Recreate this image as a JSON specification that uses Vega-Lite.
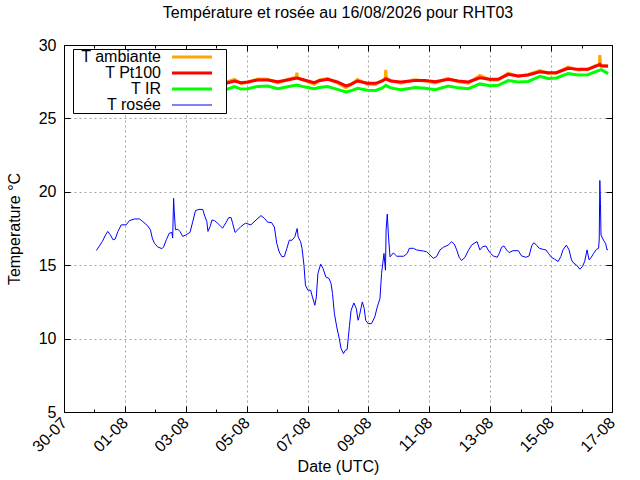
{
  "$schema": "https://vega.github.io/schema/vega-lite/v6.json",
  "width": 548,
  "height": 367,
  "autosize": {"type": "none"},
  "padding": {"left": 64, "top": 45, "right": 28, "bottom": 68},
  "background": "white",
  "title": {"text": "Température et rosée au 16/08/2026 pour RHT03", "fontSize": 16, "fontWeight": "normal", "color": "black", "offset": 16},
  "data": {"values": [
    {"t":"2026-07-31T01:10Z","s":"T ambiante","v":27.1},
    {"t":"2026-07-31T12:00Z","s":"T ambiante","v":27.4},
    {"t":"2026-08-01T00:00Z","s":"T ambiante","v":27.2},
    {"t":"2026-08-01T12:00Z","s":"T ambiante","v":27.5},
    {"t":"2026-08-02T00:00Z","s":"T ambiante","v":27.3},
    {"t":"2026-08-02T12:00Z","s":"T ambiante","v":27.55},
    {"t":"2026-08-03T00:00Z","s":"T ambiante","v":27.35},
    {"t":"2026-08-03T12:00Z","s":"T ambiante","v":27.6},
    {"t":"2026-08-04T00:00Z","s":"T ambiante","v":27.3},
    {"t":"2026-08-04T03:50Z","s":"T ambiante","v":27.12},
    {"t":"2026-08-04T09:05Z","s":"T ambiante","v":27.5},
    {"t":"2026-08-04T14:25Z","s":"T ambiante","v":27.66},
    {"t":"2026-08-04T19:25Z","s":"T ambiante","v":27.38},
    {"t":"2026-08-05T00:45Z","s":"T ambiante","v":27.45},
    {"t":"2026-08-05T08:40Z","s":"T ambiante","v":27.68},
    {"t":"2026-08-05T16:35Z","s":"T ambiante","v":27.66},
    {"t":"2026-08-06T00:30Z","s":"T ambiante","v":27.42},
    {"t":"2026-08-06T08:10Z","s":"T ambiante","v":27.65},
    {"t":"2026-08-06T15:05Z","s":"T ambiante","v":27.8},
    {"t":"2026-08-06T15:35Z","s":"T ambiante","v":28.11},
    {"t":"2026-08-06T16:05Z","s":"T ambiante","v":27.78},
    {"t":"2026-08-06T21:20Z","s":"T ambiante","v":27.6},
    {"t":"2026-08-07T05:15Z","s":"T ambiante","v":27.32},
    {"t":"2026-08-07T09:05Z","s":"T ambiante","v":27.6},
    {"t":"2026-08-07T15:50Z","s":"T ambiante","v":27.72},
    {"t":"2026-08-07T23:30Z","s":"T ambiante","v":27.42},
    {"t":"2026-08-08T06:15Z","s":"T ambiante","v":27.1},
    {"t":"2026-08-08T10:05Z","s":"T ambiante","v":27.3},
    {"t":"2026-08-08T15:20Z","s":"T ambiante","v":27.65},
    {"t":"2026-08-08T23:15Z","s":"T ambiante","v":27.32},
    {"t":"2026-08-09T05:45Z","s":"T ambiante","v":27.33},
    {"t":"2026-08-09T11:00Z","s":"T ambiante","v":27.6},
    {"t":"2026-08-09T13:10Z","s":"T ambiante","v":27.68},
    {"t":"2026-08-09T13:40Z","s":"T ambiante","v":28.3},
    {"t":"2026-08-09T14:10Z","s":"T ambiante","v":27.72},
    {"t":"2026-08-09T17:30Z","s":"T ambiante","v":27.58},
    {"t":"2026-08-10T01:25Z","s":"T ambiante","v":27.4},
    {"t":"2026-08-10T09:20Z","s":"T ambiante","v":27.58},
    {"t":"2026-08-10T12:45Z","s":"T ambiante","v":27.63},
    {"t":"2026-08-10T20:40Z","s":"T ambiante","v":27.55},
    {"t":"2026-08-11T04:35Z","s":"T ambiante","v":27.42},
    {"t":"2026-08-11T14:50Z","s":"T ambiante","v":27.72},
    {"t":"2026-08-11T22:50Z","s":"T ambiante","v":27.5},
    {"t":"2026-08-12T06:45Z","s":"T ambiante","v":27.4},
    {"t":"2026-08-12T15:50Z","s":"T ambiante","v":27.92},
    {"t":"2026-08-12T23:45Z","s":"T ambiante","v":27.62},
    {"t":"2026-08-13T06:15Z","s":"T ambiante","v":27.62},
    {"t":"2026-08-13T14:10Z","s":"T ambiante","v":28.08},
    {"t":"2026-08-13T22:05Z","s":"T ambiante","v":27.85},
    {"t":"2026-08-14T06:00Z","s":"T ambiante","v":28.0},
    {"t":"2026-08-14T15:05Z","s":"T ambiante","v":28.25},
    {"t":"2026-08-14T21:35Z","s":"T ambiante","v":28.08},
    {"t":"2026-08-15T04:05Z","s":"T ambiante","v":28.1},
    {"t":"2026-08-15T13:25Z","s":"T ambiante","v":28.5},
    {"t":"2026-08-15T21:20Z","s":"T ambiante","v":28.3},
    {"t":"2026-08-16T05:00Z","s":"T ambiante","v":28.35},
    {"t":"2026-08-16T11:45Z","s":"T ambiante","v":28.62},
    {"t":"2026-08-16T13:55Z","s":"T ambiante","v":28.6},
    {"t":"2026-08-16T14:25Z","s":"T ambiante","v":29.32},
    {"t":"2026-08-16T14:55Z","s":"T ambiante","v":28.7},
    {"t":"2026-08-16T15:35Z","s":"T ambiante","v":28.6},
    {"t":"2026-08-16T20:55Z","s":"T ambiante","v":28.55},

    {"t":"2026-07-31T01:10Z","s":"T Pt100","v":27.15},
    {"t":"2026-07-31T12:00Z","s":"T Pt100","v":27.35},
    {"t":"2026-08-01T00:00Z","s":"T Pt100","v":27.25},
    {"t":"2026-08-01T12:00Z","s":"T Pt100","v":27.45},
    {"t":"2026-08-02T00:00Z","s":"T Pt100","v":27.3},
    {"t":"2026-08-02T12:00Z","s":"T Pt100","v":27.5},
    {"t":"2026-08-03T00:00Z","s":"T Pt100","v":27.35},
    {"t":"2026-08-03T12:00Z","s":"T Pt100","v":27.55},
    {"t":"2026-08-04T00:00Z","s":"T Pt100","v":27.3},
    {"t":"2026-08-04T03:50Z","s":"T Pt100","v":27.21},
    {"t":"2026-08-04T09:05Z","s":"T Pt100","v":27.43},
    {"t":"2026-08-04T14:25Z","s":"T Pt100","v":27.55},
    {"t":"2026-08-04T19:25Z","s":"T Pt100","v":27.43},
    {"t":"2026-08-05T00:45Z","s":"T Pt100","v":27.48},
    {"t":"2026-08-05T08:40Z","s":"T Pt100","v":27.62},
    {"t":"2026-08-05T16:35Z","s":"T Pt100","v":27.62},
    {"t":"2026-08-06T00:30Z","s":"T Pt100","v":27.5},
    {"t":"2026-08-06T08:10Z","s":"T Pt100","v":27.62},
    {"t":"2026-08-06T15:35Z","s":"T Pt100","v":27.75},
    {"t":"2026-08-06T21:20Z","s":"T Pt100","v":27.62},
    {"t":"2026-08-07T05:15Z","s":"T Pt100","v":27.43},
    {"t":"2026-08-07T09:05Z","s":"T Pt100","v":27.57},
    {"t":"2026-08-07T15:50Z","s":"T Pt100","v":27.66},
    {"t":"2026-08-07T23:30Z","s":"T Pt100","v":27.48},
    {"t":"2026-08-08T06:15Z","s":"T Pt100","v":27.21},
    {"t":"2026-08-08T10:05Z","s":"T Pt100","v":27.32},
    {"t":"2026-08-08T15:20Z","s":"T Pt100","v":27.55},
    {"t":"2026-08-08T23:15Z","s":"T Pt100","v":27.39},
    {"t":"2026-08-09T05:45Z","s":"T Pt100","v":27.39},
    {"t":"2026-08-09T11:00Z","s":"T Pt100","v":27.55},
    {"t":"2026-08-09T13:40Z","s":"T Pt100","v":27.7},
    {"t":"2026-08-09T17:30Z","s":"T Pt100","v":27.55},
    {"t":"2026-08-10T01:25Z","s":"T Pt100","v":27.48},
    {"t":"2026-08-10T09:20Z","s":"T Pt100","v":27.55},
    {"t":"2026-08-10T12:45Z","s":"T Pt100","v":27.59},
    {"t":"2026-08-10T20:40Z","s":"T Pt100","v":27.59},
    {"t":"2026-08-11T04:35Z","s":"T Pt100","v":27.5},
    {"t":"2026-08-11T14:50Z","s":"T Pt100","v":27.66},
    {"t":"2026-08-11T22:50Z","s":"T Pt100","v":27.55},
    {"t":"2026-08-12T06:45Z","s":"T Pt100","v":27.48},
    {"t":"2026-08-12T15:50Z","s":"T Pt100","v":27.77},
    {"t":"2026-08-12T23:45Z","s":"T Pt100","v":27.66},
    {"t":"2026-08-13T06:15Z","s":"T Pt100","v":27.66},
    {"t":"2026-08-13T14:10Z","s":"T Pt100","v":28.0},
    {"t":"2026-08-13T22:05Z","s":"T Pt100","v":27.89},
    {"t":"2026-08-14T06:00Z","s":"T Pt100","v":27.96},
    {"t":"2026-08-14T15:05Z","s":"T Pt100","v":28.18},
    {"t":"2026-08-14T21:35Z","s":"T Pt100","v":28.11},
    {"t":"2026-08-15T04:05Z","s":"T Pt100","v":28.11},
    {"t":"2026-08-15T13:25Z","s":"T Pt100","v":28.41},
    {"t":"2026-08-15T21:20Z","s":"T Pt100","v":28.34},
    {"t":"2026-08-16T05:00Z","s":"T Pt100","v":28.34},
    {"t":"2026-08-16T11:45Z","s":"T Pt100","v":28.57},
    {"t":"2026-08-16T14:25Z","s":"T Pt100","v":28.68},
    {"t":"2026-08-16T15:35Z","s":"T Pt100","v":28.57},
    {"t":"2026-08-16T20:55Z","s":"T Pt100","v":28.57},

    {"t":"2026-07-31T01:10Z","s":"T IR","v":26.75},
    {"t":"2026-07-31T12:00Z","s":"T IR","v":26.95},
    {"t":"2026-08-01T00:00Z","s":"T IR","v":26.8},
    {"t":"2026-08-01T12:00Z","s":"T IR","v":27.0},
    {"t":"2026-08-02T00:00Z","s":"T IR","v":26.85},
    {"t":"2026-08-02T12:00Z","s":"T IR","v":27.05},
    {"t":"2026-08-03T00:00Z","s":"T IR","v":26.9},
    {"t":"2026-08-03T12:00Z","s":"T IR","v":27.1},
    {"t":"2026-08-04T00:00Z","s":"T IR","v":26.9},
    {"t":"2026-08-04T03:50Z","s":"T IR","v":26.87},
    {"t":"2026-08-04T09:05Z","s":"T IR","v":27.0},
    {"t":"2026-08-04T14:25Z","s":"T IR","v":27.16},
    {"t":"2026-08-04T19:25Z","s":"T IR","v":27.0},
    {"t":"2026-08-05T00:45Z","s":"T IR","v":27.02},
    {"t":"2026-08-05T08:40Z","s":"T IR","v":27.18},
    {"t":"2026-08-05T16:35Z","s":"T IR","v":27.2},
    {"t":"2026-08-06T00:30Z","s":"T IR","v":27.02},
    {"t":"2026-08-06T08:10Z","s":"T IR","v":27.15},
    {"t":"2026-08-06T15:35Z","s":"T IR","v":27.27},
    {"t":"2026-08-06T21:20Z","s":"T IR","v":27.15},
    {"t":"2026-08-07T05:15Z","s":"T IR","v":27.02},
    {"t":"2026-08-07T09:05Z","s":"T IR","v":27.1},
    {"t":"2026-08-07T15:50Z","s":"T IR","v":27.17},
    {"t":"2026-08-07T23:30Z","s":"T IR","v":26.98},
    {"t":"2026-08-08T06:15Z","s":"T IR","v":26.8},
    {"t":"2026-08-08T10:05Z","s":"T IR","v":26.88},
    {"t":"2026-08-08T15:20Z","s":"T IR","v":27.05},
    {"t":"2026-08-08T23:15Z","s":"T IR","v":26.92},
    {"t":"2026-08-09T05:45Z","s":"T IR","v":26.9},
    {"t":"2026-08-09T11:00Z","s":"T IR","v":27.08},
    {"t":"2026-08-09T13:40Z","s":"T IR","v":27.25},
    {"t":"2026-08-09T17:30Z","s":"T IR","v":27.08},
    {"t":"2026-08-10T01:25Z","s":"T IR","v":26.95},
    {"t":"2026-08-10T09:20Z","s":"T IR","v":27.05},
    {"t":"2026-08-10T12:45Z","s":"T IR","v":27.1},
    {"t":"2026-08-10T20:40Z","s":"T IR","v":27.05},
    {"t":"2026-08-11T04:35Z","s":"T IR","v":26.95},
    {"t":"2026-08-11T14:50Z","s":"T IR","v":27.2},
    {"t":"2026-08-11T22:50Z","s":"T IR","v":27.08},
    {"t":"2026-08-12T06:45Z","s":"T IR","v":27.02},
    {"t":"2026-08-12T15:50Z","s":"T IR","v":27.35},
    {"t":"2026-08-12T23:45Z","s":"T IR","v":27.22},
    {"t":"2026-08-13T06:15Z","s":"T IR","v":27.25},
    {"t":"2026-08-13T14:10Z","s":"T IR","v":27.58},
    {"t":"2026-08-13T22:05Z","s":"T IR","v":27.48},
    {"t":"2026-08-14T06:00Z","s":"T IR","v":27.52},
    {"t":"2026-08-14T15:05Z","s":"T IR","v":27.87},
    {"t":"2026-08-14T21:35Z","s":"T IR","v":27.72},
    {"t":"2026-08-15T04:05Z","s":"T IR","v":27.75},
    {"t":"2026-08-15T13:25Z","s":"T IR","v":28.05},
    {"t":"2026-08-15T21:20Z","s":"T IR","v":27.95},
    {"t":"2026-08-16T05:00Z","s":"T IR","v":27.98},
    {"t":"2026-08-16T11:45Z","s":"T IR","v":28.2},
    {"t":"2026-08-16T15:35Z","s":"T IR","v":28.32},
    {"t":"2026-08-16T20:55Z","s":"T IR","v":28.05},

    {"t":"2026-07-31T01:30Z","s":"T rosée","v":16.0},
    {"t":"2026-07-31T03:40Z","s":"T rosée","v":16.28},
    {"t":"2026-07-31T06:15Z","s":"T rosée","v":16.62},
    {"t":"2026-07-31T08:50Z","s":"T rosée","v":17.07},
    {"t":"2026-07-31T10:30Z","s":"T rosée","v":17.3},
    {"t":"2026-07-31T12:30Z","s":"T rosée","v":17.07},
    {"t":"2026-07-31T14:40Z","s":"T rosée","v":16.73},
    {"t":"2026-07-31T16:20Z","s":"T rosée","v":16.78},
    {"t":"2026-07-31T18:30Z","s":"T rosée","v":17.3},
    {"t":"2026-07-31T21:10Z","s":"T rosée","v":17.75},
    {"t":"2026-08-01T01:00Z","s":"T rosée","v":17.75},
    {"t":"2026-08-01T03:35Z","s":"T rosée","v":18.04},
    {"t":"2026-08-01T07:40Z","s":"T rosée","v":18.15},
    {"t":"2026-08-01T11:30Z","s":"T rosée","v":18.15},
    {"t":"2026-08-01T14:10Z","s":"T rosée","v":17.97},
    {"t":"2026-08-01T18:00Z","s":"T rosée","v":17.68},
    {"t":"2026-08-01T20:10Z","s":"T rosée","v":17.4},
    {"t":"2026-08-01T21:35Z","s":"T rosée","v":16.85},
    {"t":"2026-08-01T23:15Z","s":"T rosée","v":16.5},
    {"t":"2026-08-02T01:55Z","s":"T rosée","v":16.24},
    {"t":"2026-08-02T05:15Z","s":"T rosée","v":16.13},
    {"t":"2026-08-02T06:30Z","s":"T rosée","v":16.24},
    {"t":"2026-08-02T08:40Z","s":"T rosée","v":16.73},
    {"t":"2026-08-02T11:00Z","s":"T rosée","v":17.18},
    {"t":"2026-08-02T13:00Z","s":"T rosée","v":17.23},
    {"t":"2026-08-02T13:40Z","s":"T rosée","v":16.85},
    {"t":"2026-08-02T14:25Z","s":"T rosée","v":19.55},
    {"t":"2026-08-02T14:50Z","s":"T rosée","v":18.76},
    {"t":"2026-08-02T15:50Z","s":"T rosée","v":17.41},
    {"t":"2026-08-02T17:45Z","s":"T rosée","v":17.45},
    {"t":"2026-08-02T19:25Z","s":"T rosée","v":17.3},
    {"t":"2026-08-02T21:35Z","s":"T rosée","v":16.96},
    {"t":"2026-08-03T00:15Z","s":"T rosée","v":17.07},
    {"t":"2026-08-03T03:20Z","s":"T rosée","v":17.23},
    {"t":"2026-08-03T05:30Z","s":"T rosée","v":17.97},
    {"t":"2026-08-03T07:40Z","s":"T rosée","v":18.72},
    {"t":"2026-08-03T10:20Z","s":"T rosée","v":18.8},
    {"t":"2026-08-03T13:25Z","s":"T rosée","v":18.8},
    {"t":"2026-08-03T14:40Z","s":"T rosée","v":18.42},
    {"t":"2026-08-03T16:35Z","s":"T rosée","v":17.97},
    {"t":"2026-08-03T17:30Z","s":"T rosée","v":17.3},
    {"t":"2026-08-03T19:10Z","s":"T rosée","v":17.63},
    {"t":"2026-08-03T20:40Z","s":"T rosée","v":18.08},
    {"t":"2026-08-03T22:35Z","s":"T rosée","v":18.04},
    {"t":"2026-08-04T01:10Z","s":"T rosée","v":17.86},
    {"t":"2026-08-04T05:00Z","s":"T rosée","v":17.52},
    {"t":"2026-08-04T07:40Z","s":"T rosée","v":17.9},
    {"t":"2026-08-04T09:50Z","s":"T rosée","v":18.24},
    {"t":"2026-08-04T11:45Z","s":"T rosée","v":18.24},
    {"t":"2026-08-04T12:55Z","s":"T rosée","v":17.86},
    {"t":"2026-08-04T14:50Z","s":"T rosée","v":17.23},
    {"t":"2026-08-04T17:00Z","s":"T rosée","v":17.41},
    {"t":"2026-08-04T19:25Z","s":"T rosée","v":17.63},
    {"t":"2026-08-04T23:00Z","s":"T rosée","v":17.86},
    {"t":"2026-08-05T03:20Z","s":"T rosée","v":17.75},
    {"t":"2026-08-05T07:25Z","s":"T rosée","v":18.08},
    {"t":"2026-08-05T11:15Z","s":"T rosée","v":18.38},
    {"t":"2026-08-05T13:55Z","s":"T rosée","v":18.2},
    {"t":"2026-08-05T16:35Z","s":"T rosée","v":17.93},
    {"t":"2026-08-05T19:40Z","s":"T rosée","v":17.9},
    {"t":"2026-08-05T21:50Z","s":"T rosée","v":17.6},
    {"t":"2026-08-05T23:45Z","s":"T rosée","v":16.48},
    {"t":"2026-08-06T01:40Z","s":"T rosée","v":15.9},
    {"t":"2026-08-06T03:50Z","s":"T rosée","v":15.57},
    {"t":"2026-08-06T05:45Z","s":"T rosée","v":15.6},
    {"t":"2026-08-06T07:40Z","s":"T rosée","v":16.14},
    {"t":"2026-08-06T09:35Z","s":"T rosée","v":16.7},
    {"t":"2026-08-06T11:45Z","s":"T rosée","v":16.7},
    {"t":"2026-08-06T13:55Z","s":"T rosée","v":16.93},
    {"t":"2026-08-06T15:50Z","s":"T rosée","v":17.5},
    {"t":"2026-08-06T16:35Z","s":"T rosée","v":16.93},
    {"t":"2026-08-06T18:30Z","s":"T rosée","v":16.6},
    {"t":"2026-08-06T19:40Z","s":"T rosée","v":16.14},
    {"t":"2026-08-06T21:10Z","s":"T rosée","v":15.0},
    {"t":"2026-08-06T22:20Z","s":"T rosée","v":13.64},
    {"t":"2026-08-07T00:15Z","s":"T rosée","v":13.3},
    {"t":"2026-08-07T02:25Z","s":"T rosée","v":13.3},
    {"t":"2026-08-07T03:50Z","s":"T rosée","v":12.84},
    {"t":"2026-08-07T05:45Z","s":"T rosée","v":12.27},
    {"t":"2026-08-07T06:55Z","s":"T rosée","v":12.84},
    {"t":"2026-08-07T08:10Z","s":"T rosée","v":14.43},
    {"t":"2026-08-07T10:20Z","s":"T rosée","v":15.07},
    {"t":"2026-08-07T12:15Z","s":"T rosée","v":14.77},
    {"t":"2026-08-07T14:25Z","s":"T rosée","v":14.2},
    {"t":"2026-08-07T17:00Z","s":"T rosée","v":14.09},
    {"t":"2026-08-07T18:30Z","s":"T rosée","v":13.75},
    {"t":"2026-08-07T19:40Z","s":"T rosée","v":13.07},
    {"t":"2026-08-07T21:10Z","s":"T rosée","v":11.7},
    {"t":"2026-08-07T23:00Z","s":"T rosée","v":10.8},
    {"t":"2026-08-08T01:00Z","s":"T rosée","v":10.0},
    {"t":"2026-08-08T02:25Z","s":"T rosée","v":9.32},
    {"t":"2026-08-08T04:20Z","s":"T rosée","v":8.98},
    {"t":"2026-08-08T05:45Z","s":"T rosée","v":9.2},
    {"t":"2026-08-08T07:10Z","s":"T rosée","v":9.25},
    {"t":"2026-08-08T08:10Z","s":"T rosée","v":10.1},
    {"t":"2026-08-08T09:05Z","s":"T rosée","v":10.9},
    {"t":"2026-08-08T10:20Z","s":"T rosée","v":11.93},
    {"t":"2026-08-08T12:30Z","s":"T rosée","v":12.43},
    {"t":"2026-08-08T14:25Z","s":"T rosée","v":12.05},
    {"t":"2026-08-08T15:50Z","s":"T rosée","v":11.25},
    {"t":"2026-08-08T17:00Z","s":"T rosée","v":11.6},
    {"t":"2026-08-08T19:10Z","s":"T rosée","v":12.5},
    {"t":"2026-08-08T20:40Z","s":"T rosée","v":12.05},
    {"t":"2026-08-08T21:50Z","s":"T rosée","v":11.25},
    {"t":"2026-08-08T23:45Z","s":"T rosée","v":11.02},
    {"t":"2026-08-09T02:25Z","s":"T rosée","v":11.02},
    {"t":"2026-08-09T05:00Z","s":"T rosée","v":11.48},
    {"t":"2026-08-09T07:00Z","s":"T rosée","v":12.16},
    {"t":"2026-08-09T09:05Z","s":"T rosée","v":12.73},
    {"t":"2026-08-09T10:20Z","s":"T rosée","v":14.43},
    {"t":"2026-08-09T12:15Z","s":"T rosée","v":15.8},
    {"t":"2026-08-09T13:25Z","s":"T rosée","v":14.66},
    {"t":"2026-08-09T13:55Z","s":"T rosée","v":17.39},
    {"t":"2026-08-09T14:50Z","s":"T rosée","v":18.48},
    {"t":"2026-08-09T15:50Z","s":"T rosée","v":16.93},
    {"t":"2026-08-09T17:00Z","s":"T rosée","v":15.57},
    {"t":"2026-08-09T19:40Z","s":"T rosée","v":15.84},
    {"t":"2026-08-09T22:20Z","s":"T rosée","v":15.61},
    {"t":"2026-08-10T03:50Z","s":"T rosée","v":15.61},
    {"t":"2026-08-10T06:40Z","s":"T rosée","v":15.81},
    {"t":"2026-08-10T08:10Z","s":"T rosée","v":16.15},
    {"t":"2026-08-10T11:30Z","s":"T rosée","v":16.15},
    {"t":"2026-08-10T13:55Z","s":"T rosée","v":16.04},
    {"t":"2026-08-10T16:35Z","s":"T rosée","v":16.0},
    {"t":"2026-08-10T19:10Z","s":"T rosée","v":15.97},
    {"t":"2026-08-10T21:50Z","s":"T rosée","v":15.92},
    {"t":"2026-08-11T00:30Z","s":"T rosée","v":15.7},
    {"t":"2026-08-11T03:10Z","s":"T rosée","v":15.47},
    {"t":"2026-08-11T05:45Z","s":"T rosée","v":15.59},
    {"t":"2026-08-11T08:25Z","s":"T rosée","v":16.04},
    {"t":"2026-08-11T11:00Z","s":"T rosée","v":16.22},
    {"t":"2026-08-11T14:50Z","s":"T rosée","v":16.37},
    {"t":"2026-08-11T17:30Z","s":"T rosée","v":16.6},
    {"t":"2026-08-11T19:40Z","s":"T rosée","v":16.44},
    {"t":"2026-08-11T21:35Z","s":"T rosée","v":16.04},
    {"t":"2026-08-11T23:30Z","s":"T rosée","v":15.54},
    {"t":"2026-08-12T01:25Z","s":"T rosée","v":15.32},
    {"t":"2026-08-12T04:05Z","s":"T rosée","v":15.54},
    {"t":"2026-08-12T06:40Z","s":"T rosée","v":15.99},
    {"t":"2026-08-12T09:20Z","s":"T rosée","v":16.37},
    {"t":"2026-08-12T12:00Z","s":"T rosée","v":16.53},
    {"t":"2026-08-12T13:40Z","s":"T rosée","v":16.6},
    {"t":"2026-08-12T15:50Z","s":"T rosée","v":16.04},
    {"t":"2026-08-12T18:00Z","s":"T rosée","v":16.26},
    {"t":"2026-08-12T20:40Z","s":"T rosée","v":16.31},
    {"t":"2026-08-12T22:20Z","s":"T rosée","v":16.04},
    {"t":"2026-08-13T00:15Z","s":"T rosée","v":15.81},
    {"t":"2026-08-13T02:25Z","s":"T rosée","v":15.63},
    {"t":"2026-08-13T05:30Z","s":"T rosée","v":15.54},
    {"t":"2026-08-13T07:10Z","s":"T rosée","v":15.81},
    {"t":"2026-08-13T08:55Z","s":"T rosée","v":16.22},
    {"t":"2026-08-13T10:50Z","s":"T rosée","v":16.31},
    {"t":"2026-08-13T12:55Z","s":"T rosée","v":16.04},
    {"t":"2026-08-13T14:50Z","s":"T rosée","v":15.86},
    {"t":"2026-08-13T18:00Z","s":"T rosée","v":15.99},
    {"t":"2026-08-13T22:05Z","s":"T rosée","v":15.99},
    {"t":"2026-08-14T00:45Z","s":"T rosée","v":15.63},
    {"t":"2026-08-14T04:05Z","s":"T rosée","v":15.54},
    {"t":"2026-08-14T06:40Z","s":"T rosée","v":15.63},
    {"t":"2026-08-14T08:40Z","s":"T rosée","v":16.31},
    {"t":"2026-08-14T10:20Z","s":"T rosée","v":16.53},
    {"t":"2026-08-14T12:30Z","s":"T rosée","v":16.37},
    {"t":"2026-08-14T14:40Z","s":"T rosée","v":16.15},
    {"t":"2026-08-14T17:45Z","s":"T rosée","v":16.08},
    {"t":"2026-08-14T19:55Z","s":"T rosée","v":16.04},
    {"t":"2026-08-14T21:50Z","s":"T rosée","v":15.81},
    {"t":"2026-08-15T00:15Z","s":"T rosée","v":15.54},
    {"t":"2026-08-15T02:50Z","s":"T rosée","v":15.41},
    {"t":"2026-08-15T05:30Z","s":"T rosée","v":15.25},
    {"t":"2026-08-15T07:40Z","s":"T rosée","v":15.59},
    {"t":"2026-08-15T09:20Z","s":"T rosée","v":16.04},
    {"t":"2026-08-15T12:00Z","s":"T rosée","v":16.37},
    {"t":"2026-08-15T14:10Z","s":"T rosée","v":16.04},
    {"t":"2026-08-15T16:05Z","s":"T rosée","v":15.36},
    {"t":"2026-08-15T17:45Z","s":"T rosée","v":15.14},
    {"t":"2026-08-15T19:55Z","s":"T rosée","v":15.02},
    {"t":"2026-08-15T22:35Z","s":"T rosée","v":14.73},
    {"t":"2026-08-16T00:45Z","s":"T rosée","v":14.91},
    {"t":"2026-08-16T02:25Z","s":"T rosée","v":15.25},
    {"t":"2026-08-16T04:20Z","s":"T rosée","v":16.04},
    {"t":"2026-08-16T06:00Z","s":"T rosée","v":15.36},
    {"t":"2026-08-16T07:40Z","s":"T rosée","v":15.54},
    {"t":"2026-08-16T09:35Z","s":"T rosée","v":15.81},
    {"t":"2026-08-16T11:45Z","s":"T rosée","v":16.08},
    {"t":"2026-08-16T13:25Z","s":"T rosée","v":16.15},
    {"t":"2026-08-16T13:55Z","s":"T rosée","v":16.71},
    {"t":"2026-08-16T14:25Z","s":"T rosée","v":20.77},
    {"t":"2026-08-16T14:55Z","s":"T rosée","v":19.19},
    {"t":"2026-08-16T15:20Z","s":"T rosée","v":17.05},
    {"t":"2026-08-16T17:15Z","s":"T rosée","v":16.71},
    {"t":"2026-08-16T18:55Z","s":"T rosée","v":16.49},
    {"t":"2026-08-16T20:10Z","s":"T rosée","v":16.04},
    {"t":"2026-08-16T20:55Z","s":"T rosée","v":16.08}
  ]},
  "encoding": {
    "x": {
      "field": "t",
      "type": "temporal",
      "scale": {
        "type": "utc",
        "domain": [
          {"year": 2026, "month": 7, "date": 30, "utc": true},
          {"year": 2026, "month": 8, "date": 17, "utc": true}
        ],
        "nice": false
      }
    },
    "y": {
      "field": "v",
      "type": "quantitative",
      "scale": {"domain": [5, 30], "nice": false, "zero": false}
    },
    "color": {
      "field": "s",
      "type": "nominal",
      "scale": {
        "domain": ["T ambiante", "T Pt100", "T IR", "T rosée"],
        "range": ["#ffa500", "#ff0000", "#00ff00", "#0000ff"]
      },
      "legend": {
        "orient": "none",
        "legendX": 9,
        "legendY": 4,
        "title": null,
        "fillColor": "white",
        "strokeColor": "black",
        "padding": 0,
        "rowPadding": -1,
        "labelFontSize": 16,
        "labelColor": "black",
        "labelAlign": "right",
        "labelOffset": -39,
        "labelLimit": 200,
        "symbolType": "M-4,0H4M5.6,0",
        "symbolSize": 100,
        "symbolOffset": 111,
        "symbolStrokeWidth": 3,
        "encode": {
          "symbols": {"update": {"strokeWidth": {"signal": "datum.value === 'T rosée' ? 1 : 3"}}}
        }
      }
    }
  },
  "layer": [
    {
      "transform": [{"filter": "datum.s !== 'T rosée'"}],
      "mark": {"type": "line", "strokeWidth": 3},
      "encoding": {
        "x": {
          "field": "t",
          "type": "temporal",
          "axis": {
            "orient": "bottom",
            "title": "Date (UTC)",
            "tickCount": {"interval": "day", "step": 1},
            "labelExpr": "round(datum.value / 86400000) % 2 === 0 ? utcFormat(datum.value, '%d-%m') : ''",
            "labelAngle": -45,
            "labelAlign": "right",
            "labelBaseline": "middle",
            "labelPadding": 14,
            "labelOverlap": false,
            "labelFlush": false,
            "tickSize": {"condition": {"test": "round(datum.value / 86400000) % 2 === 0", "value": -6}, "value": -3},
            "grid": true,
            "gridOpacity": {"condition": {"test": "round(datum.value / 86400000) % 2 === 0", "value": 1}, "value": 0},
            "titlePadding": 4
          }
        },
        "y": {
          "field": "v",
          "type": "quantitative",
          "axis": {
            "orient": "left",
            "title": "Temperature °C",
            "values": [5, 10, 15, 20, 25, 30],
            "tickSize": -6,
            "labelPadding": 14,
            "grid": true,
            "titlePadding": 16
          }
        }
      }
    },
    {
      "transform": [{"filter": "datum.s === 'T rosée'"}],
      "mark": {"type": "line", "strokeWidth": 1},
      "encoding": {
        "x": {
          "field": "t",
          "type": "temporal",
          "axis": {
            "orient": "top",
            "title": null,
            "labels": false,
            "grid": false,
            "tickCount": {"interval": "day", "step": 1},
            "tickSize": {"condition": {"test": "round(datum.value / 86400000) % 2 === 0", "value": -6}, "value": -3}
          }
        },
        "y": {
          "field": "v",
          "type": "quantitative",
          "axis": {
            "orient": "right",
            "title": null,
            "labels": false,
            "grid": false,
            "values": [5, 10, 15, 20, 25, 30],
            "tickSize": -6
          }
        }
      }
    }
  ],
  "resolve": {"axis": {"x": "independent", "y": "independent"}},
  "config": {
    "font": "Liberation Sans",
    "view": {"stroke": "black", "strokeWidth": 1},
    "axis": {
      "domainColor": "black",
      "tickColor": "black",
      "labelColor": "black",
      "labelFontSize": 16,
      "titleColor": "black",
      "titleFontSize": 16,
      "titleFontWeight": "normal",
      "gridColor": "#a0a0a0",
      "gridDash": [2, 3],
      "gridWidth": 1
    }
  }
}
